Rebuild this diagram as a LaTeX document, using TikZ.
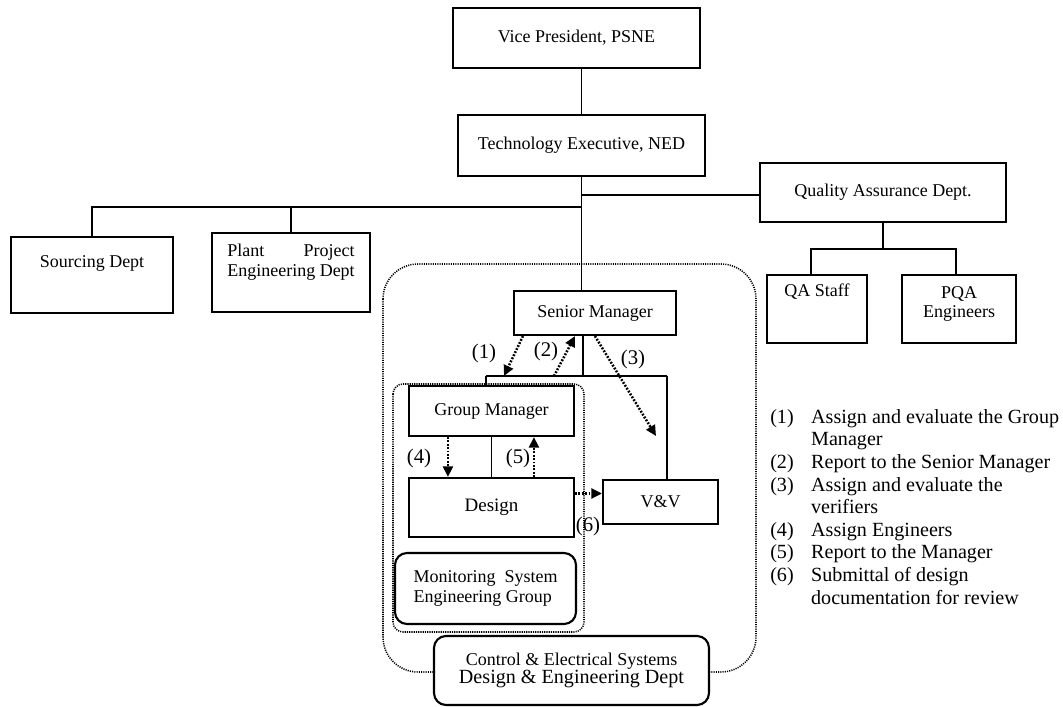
\documentclass[tikz,border=0pt]{standalone}
\usepackage{fontspec}
\setmainfont{Liberation Serif}
\usetikzlibrary{positioning, arrows.meta}
\newcommand{\px}{.025cm}
\tikzstyle{chart} = [x = .025cm, y = -.025cm]
\tikzstyle{boxText} = [font = \fontsize{12.8}{15}\selectfont, align = center]
\tikzstyle{boxStyle} = [draw, line width = 1.5pt, fill = white, inner sep = 2pt, boxText]
\tikzstyle{roundBoxStyle} = [boxStyle, rounded corners = .3cm]
\tikzstyle{chartLine} = [line width = 1.2pt]
\tikzstyle{dottedFrame} = [line width = 1.1pt, dash pattern = on .8pt off .8pt]
\tikzstyle{flowArrow} = [line width = 1.8pt, dash pattern = on 1.3pt off 1.1pt, -{Triangle[length = 7.5pt, width = 7pt]}]
\tikzstyle{numLabel} = [font = \fontsize{14.8}{17}\selectfont, inner sep = 0pt]
\tikzstyle{legendStyle} = [font = \fontsize{14.3}{16.1}\selectfont, inner sep = 0pt, anchor = north west]
\newcommand{\unitBox}[6]{\node [boxStyle, minimum width = #4 * \px, minimum height = #5 * \px] (#1) at (#2, #3) {#6};}
\newcommand{\roundBox}[6]{\node [roundBoxStyle, minimum width = #4 * \px, minimum height = #5 * \px] (#1) at (#2, #3) {#6};}
\newcommand{\topTextBox}[7]{\node [boxStyle, minimum width = #4 * \px, minimum height = #5 * \px,
  label = {[boxText, anchor = center, yshift = -#7 * \px]north:#6}] (#1) at (#2, #3) {};}

\begin{document}
\begin{tikzpicture}[chart]
  \useasboundingbox (0, 0) rectangle (1063, 707);

  % dotted frames of the department and of the group
  \draw [dottedFrame, rounded corners = .875cm] (383, 264) rectangle (756, 672);
  \draw [dottedFrame, rounded corners = .25cm] (393, 384) rectangle (584, 632);

  % boxes
  \unitBox{vp}{576.5}{38}{247}{60}{Vice President, PSNE}
  \unitBox{te}{581.5}{145.5}{247}{61}{Technology Executive, NED}
  \unitBox{qa}{883}{192.5}{246}{59}{Quality Assurance Dept.}
  \topTextBox{sourcing}{92}{275}{162}{76}{Sourcing Dept}{28}
  \topTextBox{plant}{291}{272.5}{158}{79}{\begin{tabular}{@{}l@{}}Plant\hfill Project\\[-1pt]Engineering Dept\end{tabular}}{30}
  \topTextBox{qaStaff}{817}{309}{100}{68}{QA Staff}{18}
  \topTextBox{pqa}{959}{309}{114}{68}{PQA\\[-1pt]Engineers}{30}
  \unitBox{sm}{595}{313}{162}{44}{Senior Manager}
  \unitBox{gm}{491.5}{411}{165}{50}{Group Manager}
  \unitBox{design}{491.5}{507.5}{165}{59}{\fontsize{13.5}{16}\selectfont Design}
  \unitBox{vv}{660.5}{502}{115}{44}{V\&V}
  \roundBox{msg}{485.5}{588.5}{181}{71}{\begin{tabular}{@{}l@{}}Monitoring\ \ System\\[-1pt]Engineering Group\end{tabular}}
  \roundBox{ced}{571.5}{670.5}{275}{69}{Control \& Electrical Systems\\[-2pt]{\fontsize{14.3}{17}\selectfont Design \& Engineering Dept}}

  % reporting lines
  \coordinate (deptBus) at (581.5, 207);
  \coordinate (qaJoin) at (581.5, 195);
  \coordinate (qaBus) at (883, 249);
  \coordinate (smBus) at (583, 376);
  \coordinate (busLeft) at (486, 376);
  \coordinate (busRight) at (667, 376);
  \draw [chartLine] (te.north) -- (te.north |- vp.south);
  \draw [chartLine] (te.south) -- (te.south |- sm.north);
  \draw [chartLine] (sourcing.north) |- (deptBus);
  \draw [chartLine] (plant.north) -- (plant.north |- deptBus);
  \draw [chartLine] (qaJoin) -- (qa.west |- qaJoin);
  \draw [chartLine] (qa.south) -- (qaBus);
  \draw [chartLine] ([xshift = -6 * \px]qaStaff.north) |- (qaBus) -| ([xshift = -3 * \px]pqa.north);
  \draw [chartLine] (sm.south -| smBus) -- (smBus);
  \draw [chartLine] (busLeft) -- (busRight);
  \draw [chartLine] (busLeft) -- (busLeft |- gm.north);
  \draw [chartLine] (busRight) -- (busRight |- vv.north);
  \draw [chartLine] (gm.south) -- (design.north);

  % numbered flows
  \coordinate (vvTip) at (656, 436);
  \coordinate (reviewStart) at ([yshift = 14 * \px]design.east);
  \draw [flowArrow] ([xshift = 10 * \px]sm.south west) -- ([xshift = 18 * \px]busLeft);
  \draw [flowArrow] ([xshift = 68 * \px]busLeft) -- ([xshift = 62 * \px]sm.south west);
  \draw [flowArrow] ([xshift = 82 * \px]sm.south west) -- (vvTip);
  \draw [flowArrow] ([xshift = 40 * \px]gm.south west) -- ([xshift = 40 * \px]design.north west);
  \draw [flowArrow] ([xshift = 126 * \px]design.north west) -- ([xshift = 126 * \px]gm.south west);
  \draw [flowArrow] (reviewStart) -- (reviewStart -| vv.west);

  \foreach \num/\xpos/\ypos in {1/484/353, 2/546/351, 3/633/359, 4/419/458, 5/518/458, 6/588/526} {
    \node [numLabel] (flow\num) at (\xpos, \ypos) {(\num)};
  }

  % legend
  \node [legendStyle] (legend) at (770, 407) {%
    \begin{tabular}{@{}l@{\hspace{12.4pt}}l@{}}
      (1) & Assign and evaluate the Group\\
          & Manager\\
      (2) & Report to the Senior Manager\\
      (3) & Assign and evaluate the\\
          & verifiers\\
      (4) & Assign Engineers\\
      (5) & Report to the Manager\\
      (6) & Submittal of design\\
          & documentation for review
    \end{tabular}};
\end{tikzpicture}
\end{document}
